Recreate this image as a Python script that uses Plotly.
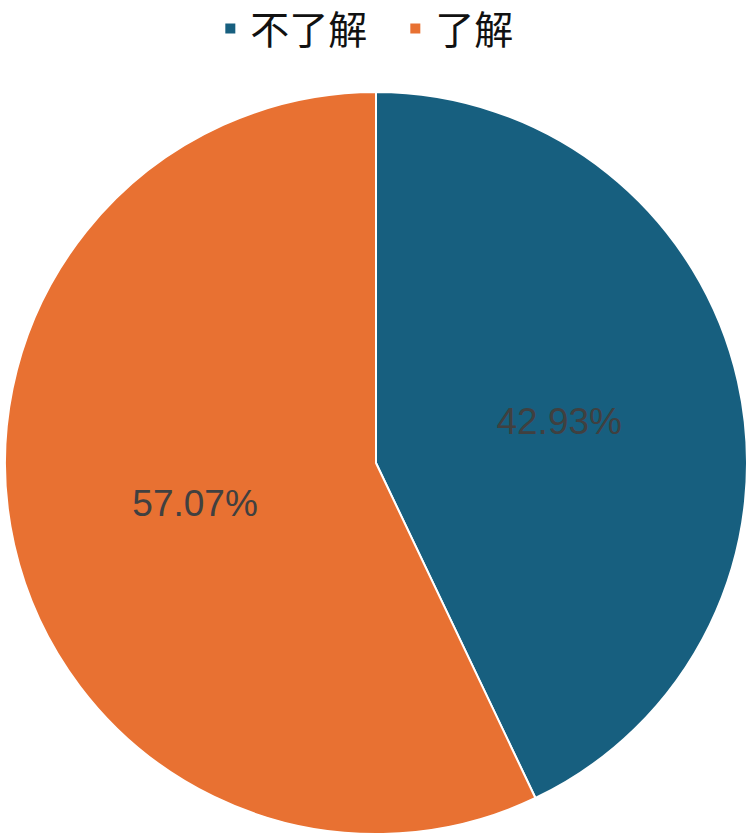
import plotly.graph_objects as go

labels = ["不了解", "了解"]
values = [42.93, 57.07]
colors = ["#175f7f", "#e87132"]

fig = go.Figure()
fig.add_trace(go.Pie(
    labels=labels,
    values=values,
    sort=False,
    direction="clockwise",
    rotation=0,
    marker=dict(colors=colors, line=dict(color="white", width=2)),
    texttemplate="%{value:.2f}%",
    textposition="inside",
    insidetextorientation="horizontal",
    textfont=dict(family="Liberation Sans, Arial, sans-serif", size=37, color="#404040"),
    hoverinfo="label+value",
    domain=dict(x=[5 / 753, 747 / 753], y=[6 / 840, 748 / 840]),
))

fig.update_layout(
    width=753,
    height=840,
    margin=dict(l=0, r=0, t=0, b=0, autoexpand=False),
    paper_bgcolor="white",
    showlegend=True,
    legend=dict(
        orientation="h",
        x=0.525, xanchor="center",
        y=1.004, yanchor="top",
        font=dict(family="Noto Sans CJK SC, sans-serif", size=39, color="#111111"),
        entrywidth=140,
        traceorder="normal",
    ),
)

# the page body has a default 8px margin; drop it so the figure sits at the window origin
fig.write_html(
    "out.html",
    config={"displayModeBar": False},
    post_script="document.body.style.margin='0';",
)
